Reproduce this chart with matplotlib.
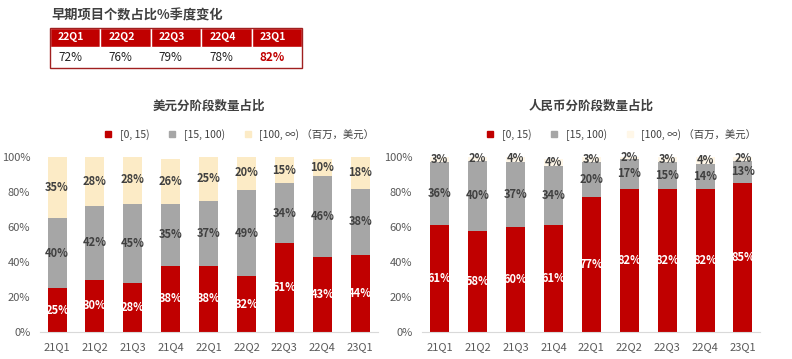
import numpy as np
import matplotlib
matplotlib.use("Agg")
import matplotlib.pyplot as plt
from matplotlib.patches import Rectangle
from matplotlib.lines import Line2D

plt.rcParams['font.family'] = ['Noto Sans CJK SC', 'DejaVu Sans']

# ---------------- data ----------------
quarters = ['21Q1', '21Q2', '21Q3', '21Q4', '22Q1', '22Q2', '22Q3', '22Q4', '23Q1']

usd_small = [25, 30, 28, 38, 38, 32, 51, 43, 44]
usd_mid = [40, 42, 45, 35, 37, 49, 34, 46, 38]
usd_large = [35, 28, 28, 26, 25, 20, 15, 10, 18]

rmb_small = [61, 58, 60, 61, 77, 82, 82, 82, 85]
rmb_mid = [36, 40, 37, 34, 20, 17, 15, 14, 13]
rmb_large = [3, 2, 4, 4, 3, 2, 3, 4, 2]

table_title = '早期项目个数占比%季度变化'
table_quarters = ['22Q1', '22Q2', '22Q3', '22Q4', '23Q1']
table_share = ['72%', '76%', '79%', '78%', '82%']

legend_labels = ['[0, 15)', '[15, 100)', '[100, ∞)']
unit_label = '（百万，美元）'

RED = '#C00000'
GRAY = '#A6A6A6'
YELLOW = '#FCEBC6'
PALE = '#FFF7E8'
TXT = '#404040'

W, H = 792, 359
fig = plt.figure(figsize=(W / 100, H / 100), dpi=100)

# pixel-coordinate overlay for the table
bg = fig.add_axes([0, 0, 1, 1])
bg.set_xlim(0, W)
bg.set_ylim(H, 0)
bg.axis('off')

bg.text(51, 15, table_title, fontsize=9.5, fontweight='bold', color=TXT, va='center', ha='left')
x0, y0, cw, rh1, rh2 = 50, 28, 50.4, 19, 21
for i, (q, v) in enumerate(zip(table_quarters, table_share)):
    last = i == len(table_quarters) - 1
    bg.add_patch(Rectangle((x0 + i * cw, y0), cw, rh1, facecolor=RED, edgecolor='white', lw=1))
    bg.text(x0 + i * cw + 8, y0 + rh1 / 2, q, color='white', fontsize=7.5, fontweight='bold', va='center')
    bg.text(x0 + i * cw + 8, y0 + rh1 + rh2 / 2, v, color=RED if last else '#222222', fontsize=8.5,
            fontweight='bold' if last else 'normal', va='center')
bg.add_patch(Rectangle((x0, y0), cw * 5, rh1 + rh2, facecolor='none', edgecolor='#A02020', lw=1))


def stacked(rect, small, mid, large, top_color, title, xlim):
    ax = fig.add_axes(rect)
    x = np.arange(len(quarters))
    s = np.array(small) / 100
    m = np.array(mid) / 100
    l = np.array(large) / 100
    ax.bar(x, s, width=0.5, color=RED)
    ax.bar(x, m, width=0.5, bottom=s, color=GRAY)
    ax.bar(x, l, width=0.5, bottom=s + m, color=top_color)
    for i in range(len(x)):
        ax.text(x[i], s[i] / 2, f'{small[i]}%', ha='center', va='center', color='white',
                fontsize=8, fontweight='bold')
        ax.text(x[i], s[i] + m[i] / 2, f'{mid[i]}%', ha='center', va='center', color=TXT,
                fontsize=8, fontweight='bold')
        ax.text(x[i], s[i] + m[i] + l[i] / 2, f'{large[i]}%', ha='center', va='center', color=TXT,
                fontsize=8, fontweight='bold')
    ax.set_xlim(*xlim)
    ax.set_ylim(0, 1)
    ax.set_xticks(x)
    ax.set_xticklabels(quarters, fontsize=8, color='#595959')
    ax.set_yticks(np.arange(0, 1.01, 0.2))
    ax.set_yticklabels([f'{int(v * 100)}%' for v in np.arange(0, 1.01, 0.2)], fontsize=8, color='#595959')
    for sp in ['top', 'right', 'left']:
        ax.spines[sp].set_visible(False)
    ax.spines['bottom'].set_color('#D9D9D9')
    ax.tick_params(length=0, pad=7)
    ax.set_title(title, fontsize=9, fontweight='bold', color=TXT, pad=34)
    handles = [Line2D([], [], marker='s', ls='', color=c, markersize=5)
               for c in [RED, GRAY, top_color]]
    labels = legend_labels[:2] + [legend_labels[2] + ' ' + unit_label]
    ax.legend(handles, labels, ncol=3, loc='lower center', bbox_to_anchor=(0.58, 1.04),
              frameon=False, fontsize=7.5, handletextpad=0.1, columnspacing=1.2,
              labelcolor=TXT)
    return ax


stacked([40 / W, 1 - 332 / H, 338 / W, 175 / H], usd_small, usd_mid, usd_large, YELLOW,
        '美元分阶段数量占比', (-0.45, 8.47))
stacked([422 / W, 1 - 332 / H, 338 / W, 175 / H], rmb_small, rmb_mid, rmb_large, PALE,
        '人民币分阶段数量占比', (-0.47, 8.45))

fig.savefig('out.png', dpi=100)
